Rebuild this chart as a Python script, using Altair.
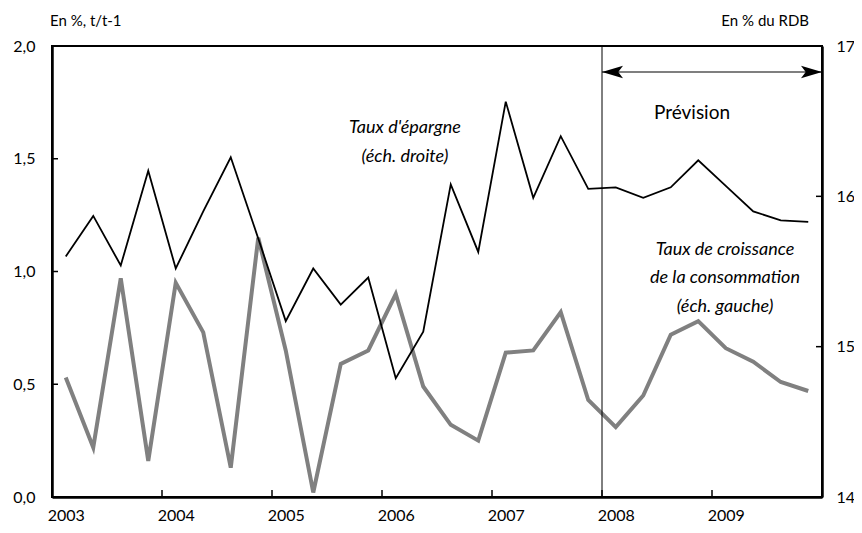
import altair as alt
import pandas as pd

# ---- data -------------------------------------------------------------
years = [2003] * 4 + [2004] * 4 + [2005] * 4 + [2006] * 4 + [2007] * 4 + [2008] * 4 + [2009] * 4
quarters = [1, 2, 3, 4] * 7

# Taux de croissance de la consommation (%, t/t-1), left scale
conso = [0.53, 0.22, 0.97, 0.16, 0.95, 0.73, 0.13, 1.15,
         0.65, 0.02, 0.59, 0.65, 0.90, 0.49, 0.32, 0.25,
         0.64, 0.65, 0.82, 0.43, 0.31, 0.45, 0.72, 0.78,
         0.66, 0.60, 0.51, 0.47]

# Taux d'épargne (% du RDB), right scale
epargne = [15.60, 15.87, 15.54, 16.17, 15.52, 15.90, 16.26, 15.72,
           15.17, 15.52, 15.28, 15.46, 14.79, 15.10, 16.08, 15.63,
           16.63, 15.99, 16.40, 16.05, 16.06, 15.99, 16.06, 16.24,
           16.07, 15.90, 15.84, 15.83]

year_ticks = [2004, 2005, 2006, 2007, 2008, 2009]
year_labels = [2003, 2004, 2005, 2006, 2007, 2008, 2009]
left_ticks = [0.5, 1.0, 1.5]
right_ticks = [15, 16]
forecast_start = 2008
forecast_end = 2010

df = pd.DataFrame({"year": years, "q": quarters, "conso": conso, "epargne": epargne})
df["t"] = df["year"] + (df["q"] - 0.5) / 4

W, H = 770, 451
FONT = "Lato"

x_scale = alt.Scale(domain=[2003, 2010], nice=False, zero=False)
x_axis = alt.Axis(values=year_labels, format="d", labelOffset=13.75, labelFlush=False,
                  ticks=False, grid=False, domainWidth=2.5, domainColor="black",
                  labelPadding=10, labelFontSize=16, labelFont=FONT, labelColor="black")
X = lambda f: alt.X(f, type="quantitative", scale=x_scale, axis=x_axis, title=None)

yl_scale = alt.Scale(domain=[0, 2], nice=False, zero=False)
yl_axis = alt.Axis(values=[0, 0.5, 1, 1.5, 2], labelExpr="replace(format(datum.value, '.1f'), '.', ',')",
                   ticks=False, grid=False, domainWidth=2.5, domainColor="black",
                   labelPadding=17, labelFontSize=16, labelFont=FONT, labelColor="black")
yr_scale = alt.Scale(domain=[14, 17], nice=False, zero=False)
yr_axis = alt.Axis(orient="right", values=[14, 15, 16, 17], format="d",
                   ticks=False, grid=False, domainWidth=2.5, domainColor="black",
                   labelPadding=14, labelFontSize=16, labelFont=FONT, labelColor="black")

# ---- left-scale layer --------------------------------------------------
gray = alt.Chart(df).mark_line(color="#808080", strokeWidth=4, strokeJoin="miter").encode(
    x=X("t"), y=alt.Y("conso:Q", scale=yl_scale, axis=yl_axis, title=None))

lt = alt.Chart(pd.DataFrame({"v": left_ticks})).mark_rule(color="black", strokeWidth=1.5).encode(
    x=alt.value(0), x2=alt.value(6), y=alt.Y("v:Q", scale=yl_scale, axis=yl_axis, title=None))

xt = alt.Chart(pd.DataFrame({"yr": year_ticks})).mark_rule(color="black", strokeWidth=1.5).encode(
    x=X("yr"), y=alt.value(H - 7), y2=alt.value(H))

vline = alt.Chart(pd.DataFrame({"yr": [forecast_start]})).mark_rule(color="black", strokeWidth=1).encode(
    x=X("yr"))

arrow = alt.Chart(pd.DataFrame({"a": [forecast_start], "b": [forecast_end]})).mark_rule(
    color="black", strokeWidth=1.2).encode(x=X("a"), x2="b", y=alt.value(26))

head_r = alt.Chart(pd.DataFrame({"a": [forecast_end]})).mark_point(
    shape="M0,0 L-2,-0.6 L-1.55,0 L-2,0.6 Z", filled=True, color="black", opacity=1,
    size=441).encode(x=X("a"), y=alt.value(26))
head_l = alt.Chart(pd.DataFrame({"a": [forecast_start]})).mark_point(
    shape="M0,0 L2,-0.6 L1.55,0 L2,0.6 Z", filled=True, color="black", opacity=1,
    size=441).encode(x=X("a"), y=alt.value(26))

ann = pd.DataFrame({
    "txt": ["Taux d'épargne", "(éch. droite)", "Taux de croissance",
            "de la consommation", "(éch. gauche)"],
    "px": [353, 353, 673, 673, 673],
    "py": [82, 111, 204, 232, 261],
})
ann_text = alt.Chart(ann).mark_text(font=FONT, fontSize=18, fontStyle="italic", color="black",
                                    align="center", baseline="middle").encode(
    x=alt.X("px:Q", scale=None), y=alt.Y("py:Q", scale=None), text="txt:N")

prev = alt.Chart(pd.DataFrame({"txt": ["Prévision"]})).mark_text(
    font=FONT, fontSize=19, color="black", align="center", baseline="middle").encode(
    x=alt.value(640), y=alt.value(67), text="txt:N")

unit_l = alt.Chart(pd.DataFrame({"txt": ["En %, t/t-1"]})).mark_text(
    font=FONT, fontSize=15, color="black", align="left", baseline="alphabetic").encode(
    x=alt.value(-2), y=alt.value(-20), text="txt:N")
unit_r = alt.Chart(pd.DataFrame({"txt": ["En % du RDB"]})).mark_text(
    font=FONT, fontSize=15, color="black", align="right", baseline="alphabetic").encode(
    x=alt.value(757), y=alt.value(-20), text="txt:N")

left = alt.layer(gray, lt, xt, vline, arrow, head_r, head_l, ann_text, prev, unit_l, unit_r)

# ---- right-scale layer -------------------------------------------------
black = alt.Chart(df).mark_line(color="black", strokeWidth=1.8, strokeJoin="miter").encode(
    x=X("t"), y=alt.Y("epargne:Q", scale=yr_scale, axis=yr_axis, title=None))
rt = alt.Chart(pd.DataFrame({"v": right_ticks})).mark_rule(color="black", strokeWidth=1.5).encode(
    x=alt.value(W - 6), x2=alt.value(W), y=alt.Y("v:Q", scale=yr_scale, axis=yr_axis, title=None))
right = alt.layer(black, rt)

chart = alt.layer(left, right).resolve_scale(y="independent").properties(
    width=W, height=H,
    autosize=alt.AutoSizeParams(type="none"),
    padding={"left": 44, "top": 38, "right": 32, "bottom": 26},
    background="white",
).configure_view(stroke="black", strokeWidth=2)

chart.save("out.html", embed_options={"renderer": "svg", "actions": False})
